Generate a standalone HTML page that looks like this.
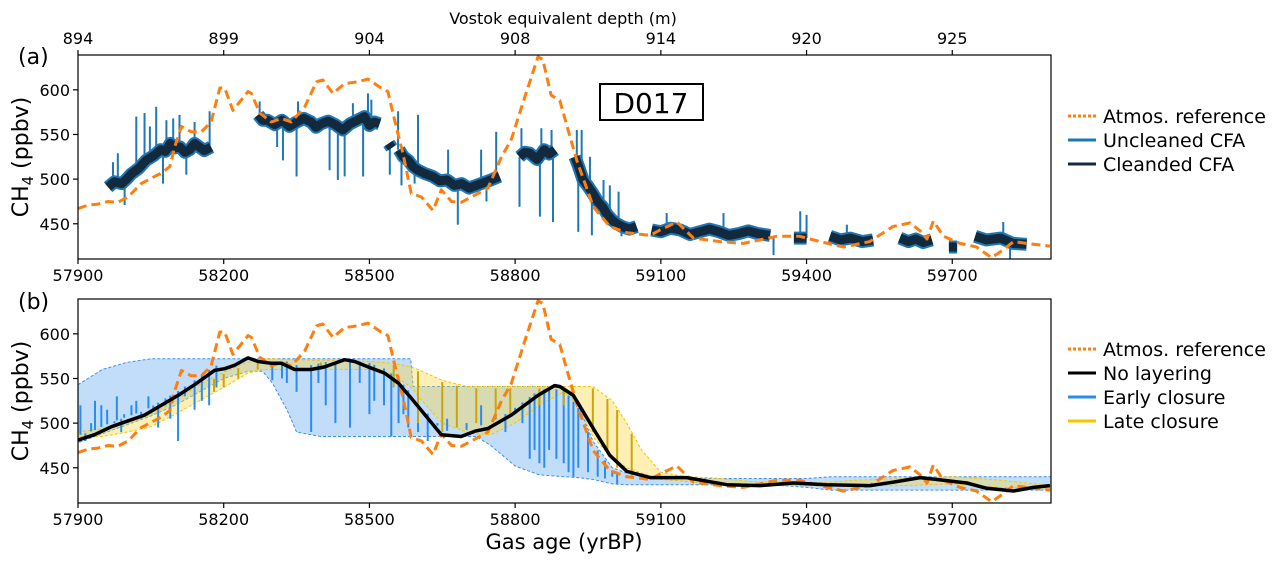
<!DOCTYPE html>
<html><head><meta charset="utf-8">
<style>
html,body{margin:0;padding:0;background:#fff;}
svg{display:block;font-family:"DejaVu Sans","Liberation Sans",sans-serif;}
</style></head>
<body>
<svg id="chart" width="1284" height="564" viewBox="0 0 1284 564" xmlns="http://www.w3.org/2000/svg">
<g id="layer"></g>
</svg>
<script>
// ===== DATA =====
const xTicks = [57900, 58200, 58500, 58800, 59100, 59400, 59700];
const topTickLabels = ["894","899","904","908","914","920","925"];
const yTicks = [450, 500, 550, 600];

const atmT = [57900,57921,57941,57962,57982,58003,58030,58072,58089,58099,58113,58133,58154,58174,58192,58202,58219,58250,58257,58274,58298,58319,58339,58367,58391,58404,58425,58449,58476,58497,58524,58538,58555,58569,58586,58607,58631,58648,58669,58689,58717,58744,58772,58792,58820,58847,58857,58874,58892,58909,58927,58961,58995,59030,59078,59098,59133,59167,59222,59270,59338,59386,59428,59476,59530,59578,59613,59634,59648,59661,59682,59716,59750,59781,59805,59826,59853,59901];
const atmV = [467,471,472,475,474,480,495,507,514,536,559,553,553,564,602,602,577,598,596,574,564,568,564,581,609,611,596,607,609,612,602,598,559,529,484,480,465,488,475,474,482,490,525,544,592,637,634,594,588,555,521,469,447,440,437,443,452,434,430,428,436,436,430,424,430,447,451,442,433,453,436,428,424,412,421,430,428,425];

// Cleaned CFA segments: [time, value]
const cfaSegments = [
 [[57962,491],[57975,497],[57990,495],[58000,500],[58010,506],[58025,512],[58040,521],[58055,526],[58070,533],[58080,531],[58090,540],[58100,535],[58110,536],[58120,530],[58130,533],[58140,540],[58150,536],[58160,532],[58174,536]],
 [[58271,572],[58280,566],[58290,566],[58305,561],[58320,566],[58335,559],[58350,564],[58365,568],[58380,564],[58390,558],[58400,562],[58415,565],[58430,561],[58445,555],[58460,562],[58475,566],[58490,570],[58500,560],[58510,564],[58521,562]],
 [[58540,540],[58546,535]],
 [[58561,533],[58570,525],[58580,521],[58590,514],[58600,510],[58615,506],[58630,503],[58645,498],[58660,499],[58675,493],[58690,495],[58705,490],[58720,493],[58735,496],[58750,499],[58768,503]],
 [[58809,525],[58820,530],[58830,529],[58845,522],[58860,533],[58870,528],[58882,533]],
 [[58923,525],[58930,515],[58940,499],[58950,492],[58960,484],[58970,475],[58980,469],[58990,460],[59000,454],[59010,450],[59020,447],[59035,444],[59050,447]],
 [[59081,443],[59100,441],[59120,445],[59140,443],[59160,438],[59180,441],[59200,444],[59220,441],[59240,437],[59260,439],[59280,442],[59300,439],[59325,437]],
 [[59374,434],[59400,434]],
 [[59448,436],[59470,432],[59490,434],[59515,430],[59537,432]],
 [[59592,434],[59610,430],[59625,433],[59640,429],[59658,432]],
 [[59693,424],[59710,424]],
 [[59747,436],[59770,432],[59800,434],[59825,428],[59853,427]]
];
const spikeT = [57972,57982,57996,58020,58037,58048,58061,58075,58082,58096,58109,58123,58140,58171,58274,58310,58322,58350,58353,58418,58435,58449,58466,58487,58497,58504,58542,58559,58566,58600,58593,58662,58682,58730,58761,58741,58813,58809,58854,58851,58875,58878,58927,58930,58937,58954,58958,58982,58995,59013,59019,59112,59229,59332,59387,59400,59483,59805,59819];
const spikeV = [519,529,471,570,574,559,581,495,566,568,572,505,564,576,587,536,521,503,587,510,499,503,585,503,596,589,505,576,493,572,495,533,449,533,553,475,557,469,557,458,555,452,555,441,555,525,437,499,493,486,436,462,462,415,464,460,449,452,411];

// Panel b
const bandT   = [57900,57950,58000,58050,58100,58150,58200,58250,58280,58300,58330,58350,58400,58450,58500,58550,58585,58590,58600,58650,58700,58720,58750,58800,58850,58900,58930,58960,59000,59030,59060,59100,59150,59200,59300,59350,59400,59450,59500,59600,59700,59800,59905];
const earlyHi = [543,560,568,572,572,572,572,572,572,572,572,572,572,572,572,572,572,541,541,541,541,541,541,541,541,541,520,480,450,444,441,438,438,438,438,438,438,440,440,440,440,440,440];
const earlyLo = [478,488,498,508,520,535,550,558,558,545,515,490,485,485,485,485,485,485,485,485,485,485,475,452,442,440,439,437,432,431,431,431,431,431,431,430,428,425,425,425,425,425,425];
const lateHi  = [490,494,500,510,525,543,557,568,572,572,571,571,570,570,569,567,563,562,560,548,541,541,541,541,541,541,541,541,525,500,470,445,440,439,434,434,433,434,436,438,440,436,430];
const lateLo  = [485,485,490,496,510,525,540,556,560,560,560,560,560,560,560,555,540,538,530,500,490,488,487,500,520,535,520,485,460,450,444,437,435,432,431,430,430,430,430,430,432,428,427];

const noLayT = [57900,57934,57969,58037,58106,58140,58181,58202,58223,58250,58271,58298,58319,58346,58380,58408,58449,58470,58497,58531,58559,58586,58621,58648,58689,58717,58744,58792,58847,58881,58892,58920,58961,58995,59030,59078,59153,59236,59304,59373,59441,59531,59579,59634,59682,59730,59771,59826,59867,59901];
const noLayV = [481,487,496,509,531,543,559,561,565,573,569,567,567,560,560,563,571,569,563,556,545,528,505,487,485,491,494,509,531,542,541,531,494,464,446,439,439,431,430,433,431,430,434,439,436,433,427,424,428,430];

const earlySpikeT = [57905,57915,57927,57935,57948,57960,57975,57980,57989,57995,58010,58020,58030,58045,58055,58065,58080,58090,58106,58120,58140,58155,58170,58185,58300,58320,58330,58350,58380,58395,58410,58430,58460,58480,58500,58510,58530,58545,58560,58570,58580,58600,58620,58640,58660,58700,58730,58760,58780,58800,58815,58830,58840,58850,58860,58870,58885,58900,58910,58920,58930,58950,58970,58985,59000,59010];
const earlySpikeV = [520,480,500,525,520,515,500,530,490,510,520,525,505,530,515,495,520,505,480,530,515,525,520,540,548,550,545,535,490,545,520,500,495,545,510,525,520,485,500,510,495,490,480,500,505,500,520,510,490,510,500,460,470,455,450,470,460,455,445,440,450,445,440,438,440,432];
const lateSpikeT = [58180,58200,58230,58270,58400,58550,58600,58650,58680,58720,58760,58790,58850,58900,58960,58990,59010,59040];
const lateSpikeV = [535,540,550,560,560,540,500,490,495,500,505,510,520,520,490,470,450,440];

// ===== SCALES =====
const X0 = 78, X1 = 1051, TMIN = 57900, PXY = 0.4857;
const VMAX = 639, PYV = 0.893;
const panels = {a:{top:55,bottom:259}, b:{top:299,bottom:503}};
function xs(t){ return X0 + (t - TMIN) * PXY; }
function ys(v, p){ return panels[p].top + (VMAX - v) * PYV; }
function interp(t, T, V){
  if (t <= T[0]) return V[0];
  for (let i=1;i<T.length;i++){ if (t <= T[i]){ const f=(t-T[i-1])/(T[i]-T[i-1]); return V[i-1]+f*(V[i]-V[i-1]); } }
  return V[V.length-1];
}
const NS = "http://www.w3.org/2000/svg";
const layer = document.getElementById('layer');
function mk(tag, attrs, parent){
  const e = document.createElementNS(NS, tag);
  for (const k in attrs) e.setAttribute(k, attrs[k]);
  (parent||layer).appendChild(e);
  return e;
}
function pts(T, V, p){ return T.map((t,i)=>xs(t).toFixed(1)+','+ys(V[i],p).toFixed(1)).join(' '); }

const defs = mk('defs', {});
['a','b'].forEach(p=>{
  const c = mk('clipPath', {id:'clip-'+p}, defs);
  mk('rect', {x:X0, y:panels[p].top, width:X1-X0, height:panels[p].bottom-panels[p].top}, c);
});

// ===== PANEL A =====
const gA = mk('g', {'clip-path':'url(#clip-a)'});


cfaSegments.forEach(seg=>{
  const T = seg.map(s=>s[0]), V = seg.map(s=>s[1]);
  const u = mk('polyline', {points:pts(T,V,'a'), fill:'none', stroke:'#1f77b4', 'stroke-width':13, 'stroke-linejoin':'round', 'stroke-linecap':'butt'}, gA);
  
  
});
spikeT.forEach((t,i)=>{
  let base = null;
  cfaSegments.forEach(seg=>{ if (t>=seg[0][0]-3 && t<=seg[seg.length-1][0]+3) base = interp(t, seg.map(s=>s[0]), seg.map(s=>s[1])); });
  if (base===null) base = interp(t, atmT, atmV);
  const l = mk('line', {x1:xs(t), x2:xs(t), y1:ys(base,'a'), y2:ys(spikeV[i],'a'), stroke:'#1f77b4', 'stroke-width':2}, gA);
  
  
});
cfaSegments.forEach(seg=>{
  const T = seg.map(s=>s[0]), V = seg.map(s=>s[1]);
  const c = mk('polyline', {points:pts(T,V,'a'), fill:'none', stroke:'#13293d', 'stroke-width':9, 'stroke-linejoin':'round', 'stroke-linecap':'butt'}, gA);
  
  
});
const atmA = mk('polyline', {points:pts(atmT,atmV,'a'), fill:'none', stroke:'#ff7f0e', 'stroke-width':3, 'stroke-dasharray':'9,5', 'stroke-linejoin':'round'}, gA);



// ===== PANEL B =====
const gB = mk('g', {'clip-path':'url(#clip-b)'});


function band(hi, lo, fill, stroke, name){
  const up = bandT.map((t,i)=>xs(t).toFixed(1)+','+ys(hi[i],'b').toFixed(1));
  const dn = bandT.map((t,i)=>xs(t).toFixed(1)+','+ys(lo[i],'b').toFixed(1)).reverse();
  const e = mk('polygon', {points:up.concat(dn).join(' '), fill:fill, stroke:stroke, 'stroke-width':1, 'stroke-dasharray':'3,2'}, gB);
  
  
}
band(earlyHi, earlyLo, 'rgba(120,180,245,0.45)', '#3d8ff0', 'early-closure-band');
band(lateHi, lateLo, 'rgba(252,215,60,0.38)', '#f5c400', 'late-closure-band');
earlySpikeT.forEach((t,i)=>{
  const top = Math.min(interp(t,bandT,earlyHi), interp(t,noLayT,noLayV)+8) - 3;
  const l = mk('line', {x1:xs(t), x2:xs(t), y1:ys(top,'b'), y2:ys(earlySpikeV[i],'b'), stroke:'#2b8cf0', 'stroke-width':2}, gB);
  
  
});
lateSpikeT.forEach((t,i)=>{
  const top = interp(t,bandT,lateHi) - 2;
  const l = mk('line', {x1:xs(t), x2:xs(t), y1:ys(top,'b'), y2:ys(lateSpikeV[i],'b'), stroke:'#c9a50a', 'stroke-width':2}, gB);
  
  
});
const atmB = mk('polyline', {points:pts(atmT,atmV,'b'), fill:'none', stroke:'#ff7f0e', 'stroke-width':3, 'stroke-dasharray':'9,5', 'stroke-linejoin':'round'}, gB);


const nl = mk('polyline', {points:pts(noLayT,noLayV,'b'), fill:'none', stroke:'#000', 'stroke-width':3.5, 'stroke-linejoin':'round'}, gB);



// ===== AXES =====
function txt(x, y, s, size, anchor, name, extra){
  const e = mk('text', Object.assign({x:x, y:y, 'font-size':size, 'text-anchor':anchor||'middle', fill:'#000'}, extra||{}));
  e.textContent = s;
  
  
  return e;
}
['a','b'].forEach(p=>{
  const P = panels[p];
  const fr = mk('rect', {x:X0, y:P.top, width:X1-X0, height:P.bottom-P.top, fill:'none', stroke:'#000', 'stroke-width':1.2});
  
  
  xTicks.forEach((t,i)=>{
    const tk = mk('line', {x1:xs(t), x2:xs(t), y1:P.bottom, y2:P.bottom+5, stroke:'#000', 'stroke-width':1.2});
    
    
    txt(xs(t), P.bottom+22, String(t), 16, 'middle', 'x-tick-label');
    if (p==='a'){
      const tt = mk('line', {x1:xs(t), x2:xs(t), y1:P.top, y2:P.top-5, stroke:'#000', 'stroke-width':1.2});
      
      
      txt(xs(t), 44, topTickLabels[i], 16, 'middle', 'top-x-tick-label');
    }
  });
  yTicks.forEach(v=>{
    const tk = mk('line', {x1:X0-5, x2:X0, y1:ys(v,p), y2:ys(v,p), stroke:'#000', 'stroke-width':1.2});
    
    
    txt(X0-8, ys(v,p)+6, String(v), 16, 'end', 'y-tick-label');
  });
  const cy = (P.top+P.bottom)/2;
  const yl = txt(28, cy, '', 22, 'middle', 'y-axis-title', {transform:'rotate(-90 28 '+cy+')'});
  yl.innerHTML = 'CH<tspan font-size="15" dy="5">4</tspan><tspan dy="-5"> (ppbv)</tspan>';
});
txt(18, 64, '(a)', 22, 'start', 'panel-label-a');
txt(18, 309, '(b)', 22, 'start', 'panel-label-b');
txt(563, 24, 'Vostok equivalent depth (m)', 16, 'middle', 'top-axis-title');
txt(564, 549, 'Gas age (yrBP)', 21, 'middle', 'x-axis-title');

const db = mk('rect', {x:600, y:84, width:103, height:36, fill:'#fff', stroke:'#000', 'stroke-width':2});


txt(651, 113, 'D017', 28, 'middle', 'core-label');

// ===== LEGENDS =====
function legendEntry(y, color, dash, label, name){
  const l = mk('line', {x1:1068, x2:1096, y1:y, y2:y, stroke:color, 'stroke-width':3, 'stroke-dasharray':dash||'none'});
  
  
  txt(1103, y+7, label, 19, 'start', name);
}
legendEntry(116, '#ff7f0e', '3,2', 'Atmos. reference', 'legend-entry-atmos-a');
legendEntry(140, '#1f77b4', null, 'Uncleaned CFA', 'legend-entry-uncleaned');
legendEntry(164, '#13293d', null, 'Cleanded CFA', 'legend-entry-cleaned');
legendEntry(349, '#ff7f0e', '3,2', 'Atmos. reference', 'legend-entry-atmos-b');
legendEntry(373, '#000', null, 'No layering', 'legend-entry-no-layering');
legendEntry(397, '#2b8cf0', null, 'Early closure', 'legend-entry-early');
legendEntry(421, '#f5c400', null, 'Late closure', 'legend-entry-late');
</script>
</body></html>
